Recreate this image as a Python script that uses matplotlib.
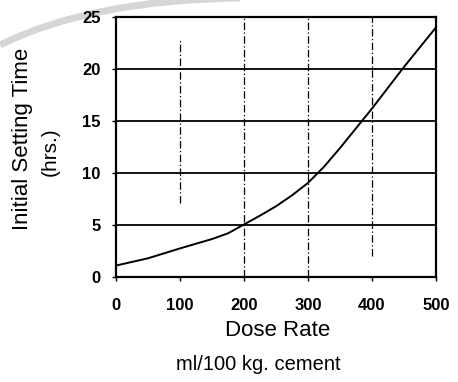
import matplotlib
matplotlib.use("Agg")
import matplotlib.pyplot as plt
from matplotlib.path import Path
from matplotlib.patches import PathPatch

# Initial setting time vs. admixture dose rate
dose = [0, 50, 100, 150, 175, 200, 225, 250, 275, 300,
        325, 350, 375, 400, 425, 450, 475, 500]
set_time = [1.1, 1.8, 2.75, 3.65, 4.2, 5.05, 5.9, 6.8, 7.85, 9.05,
            10.6, 12.4, 14.3, 16.2, 18.2, 20.2, 22.1, 24.0]
x_ticks = [0, 100, 200, 300, 400, 500]
x_tick_labels = ["0", "100", "200", "300", "400", "500"]
y_ticks = [0, 5, 10, 15, 20, 25]

W, H = 458, 382
fig = plt.figure(figsize=(W / 100, H / 100), dpi=100)
ax = fig.add_axes([116 / W, 1 - 277 / H, (436 - 116) / W, (277 - 17) / H])

ax.set_xlim(0, 500)
ax.set_ylim(0, 25)

# horizontal solid grid lines
for yv in y_ticks[1:-1]:
    ax.axhline(yv, color="black", lw=1.3, zorder=1)

# vertical dash-dot guide lines (some stop short)
vlines = [(100, 7.1, 22.9), (200, 0, 25), (300, 0, 25), (400, 2.0, 25)]
for xv, y0, y1 in vlines:
    ax.plot([xv, xv], [y0, y1], color="black", lw=0.9,
            linestyle=(0, (6, 2, 1, 2)), zorder=1)

ax.plot(dose, set_time, color="black", lw=1.4, zorder=3,
        solid_joinstyle="round")

for s in ax.spines.values():
    s.set_linewidth(1.6)

ax.set_xticks(x_ticks)
ax.set_xticklabels(x_tick_labels)
ax.set_yticks(y_ticks)
ax.tick_params(direction="out", length=3, width=1)
ax.tick_params(axis="x", pad=12)
ax.tick_params(axis="y", pad=8)
for lab in ax.get_xticklabels() + ax.get_yticklabels():
    lab.set_fontfamily("Liberation Sans")
    lab.set_fontweight("bold")
    lab.set_fontsize(12)

def px(x, y):
    return x / W, 1 - y / H

font = "Liberation Sans"
fig.text(*px(278, 331), "Dose Rate", family=font, fontsize=16,
         ha="center", va="center")
fig.text(*px(258, 365), "ml/100 kg. cement", family=font, fontsize=14.5,
         ha="center", va="center")
fig.text(*px(23, 139), "Initial Setting Time", family=font, fontsize=16,
         rotation=90, ha="center", va="center")
fig.text(*px(50, 152), "(hrs.)", family=font, fontsize=15,
         rotation=90, ha="center", va="center")

# faint grey sweep across the upper-left corner
pts = [(0, 45), (90, 0), (240, -2)]
verts = [(x / 100, (H - y) / 100) for x, y in pts]
sweep = PathPatch(Path(verts, [Path.MOVETO, Path.CURVE3, Path.CURVE3]),
                  transform=fig.dpi_scale_trans, facecolor="none",
                  edgecolor="#d6d6d6", lw=5, zorder=0)
fig.add_artist(sweep)

fig.savefig("out.png", dpi=100)
